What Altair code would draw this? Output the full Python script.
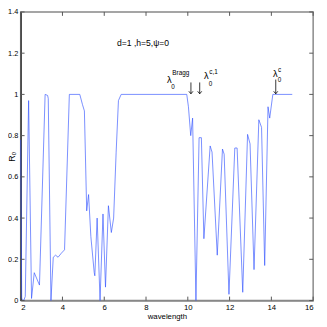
import altair as alt
import pandas as pd

# curve data
wavelength = [2.00, 2.05, 2.15, 2.22, 2.38, 2.52, 2.65, 2.90, 3.17, 3.29, 3.32, 3.45,
              3.56, 3.67, 3.79, 3.95, 4.10, 4.33, 4.83, 4.96, 5.05, 5.16, 5.25, 5.36,
              5.52, 5.55, 5.66, 5.80, 5.94, 6.06, 6.20, 6.34, 6.45, 6.57, 6.68, 6.81,
              9.95, 10.03, 10.14, 10.23, 10.39, 10.54, 10.65, 10.77, 11.07, 11.16, 11.41,
              11.66, 11.74, 11.97, 12.25, 12.36, 12.63, 12.86, 12.98, 13.17, 13.40, 13.53,
              13.68, 13.84, 13.92, 14.07, 15.0]
reflect = [0.78, 0.01, 0.0, 0.02, 0.97, 0.01, 0.135, 0.075, 1.0, 0.995, 0.98, 0.0,
           0.21, 0.22, 0.21, 0.23, 0.246, 1.0, 1.0, 0.95, 0.92, 0.435, 0.514, 0.31,
           0.136, 0.12, 0.40, 0.0, 0.42, 0.065, 0.46, 0.33, 0.40, 0.72, 0.97, 1.0,
           1.0, 0.94, 0.80, 0.885, 0.0, 0.79, 0.79, 0.30, 0.75, 0.72, 0.22,
           0.735, 0.71, 0.03, 0.74, 0.74, 0.04, 0.806, 0.76, 0.15, 0.877, 0.84,
           0.17, 0.94, 0.885, 1.0, 1.0]

x_ticks = [2, 4, 6, 8, 10, 12, 14, 16]
y_ticks = [0, 0.2, 0.4, 0.6, 0.8, 1, 1.2, 1.4]

# annotations
arrow_x = [10.15, 10.57, 14.21]
arrow_top = [1.058, 1.058, 1.072]
lam_x = [9.0, 10.78, 14.08]
lam_y = [1.07, 1.089, 1.10]
sub_x = [9.21, 11.0, 14.30]
sub_y = [1.036, 1.052, 1.070]
sup_x = [9.26, 11.03, 14.32]
sup_y = [1.104, 1.110, 1.120]
sup_text = ["Bragg", "c,1", "c"]
note_text = ["d=1 ,h=5,\u03c8=0"]
note_x = [6.61]
note_y = [1.247]

W, H = 300, 296
FONT = "Liberation Sans"

xs = alt.Scale(domain=[2, 16], nice=False, zero=False)
ys = alt.Scale(domain=[0, 1.4], nice=False, zero=False)

df = pd.DataFrame({"wl": wavelength, "R": reflect})

line = alt.Chart(df).mark_line(color="#3050ff", strokeWidth=0.65).encode(
    x=alt.X("wl:Q", scale=xs, title="wavelength",
            axis=alt.Axis(values=x_ticks, ticks=False, grid=False, format="~g",
                          domainColor="#888888", domainWidth=1.5, labelPadding=3,
                          titlePadding=1, labelFont=FONT, titleFont=FONT,
                          labelFontSize=8, titleFontSize=8, titleFontWeight="normal",
                          labelColor="#000", titleColor="#000")),
    y=alt.Y("R:Q", scale=ys, title="R\u2080",
            axis=alt.Axis(values=y_ticks, ticks=False, grid=False, format="~g",
                          domainColor="#000000", domainWidth=1, labelPadding=3,
                          titleX=-9, titleY=H / 2, titleBaseline="middle",
                          labelFont=FONT, titleFont=FONT,
                          labelFontSize=7.5, titleFontSize=9, titleFontWeight="normal",
                          labelColor="#000", titleColor="#000")),
    order=alt.Order("wl:Q"),
)

xt = pd.DataFrame({"t": x_ticks})
yt = pd.DataFrame({"t": y_ticks})
tick_col = "#555555"
bt = alt.Chart(xt).mark_rule(color=tick_col, strokeWidth=1).encode(
    x=alt.X("t:Q", scale=xs), y=alt.value(H), y2=alt.value(H - 4))
tt = alt.Chart(xt).mark_rule(color=tick_col, strokeWidth=1).encode(
    x=alt.X("t:Q", scale=xs), y=alt.value(0), y2=alt.value(4))
lt = alt.Chart(yt).mark_rule(color=tick_col, strokeWidth=1).encode(
    y=alt.Y("t:Q", scale=ys), x=alt.value(0), x2=alt.value(4))
rt = alt.Chart(yt).mark_rule(color=tick_col, strokeWidth=1).encode(
    y=alt.Y("t:Q", scale=ys), x=alt.value(W), x2=alt.value(W - 4))

adf = pd.DataFrame({"x": arrow_x, "top": arrow_top, "bot": [1.003] * 3})
arrows = alt.Chart(adf).mark_rule(color="#000", strokeWidth=0.8).encode(
    x=alt.X("x:Q", scale=xs), y=alt.Y("top:Q", scale=ys), y2="bot:Q")
heads = alt.Chart(adf).mark_point(shape="M -1 -1.2 L 0 0 L 1 -1.2", size=18, filled=False,
                                  color="#000", strokeWidth=0.8, opacity=1).encode(
    x=alt.X("x:Q", scale=xs), y=alt.Y("bot:Q", scale=ys))

ldf = pd.DataFrame({"x": lam_x, "y": lam_y, "t": ["\u03bb"] * 3})
lam = alt.Chart(ldf).mark_text(align="left", baseline="middle", font=FONT, fontSize=9.5,
                               color="#000").encode(
    x=alt.X("x:Q", scale=xs), y=alt.Y("y:Q", scale=ys), text="t:N")
sdf = pd.DataFrame({"x": sub_x, "y": sub_y, "t": ["0"] * 3})
sub = alt.Chart(sdf).mark_text(align="left", baseline="middle", font=FONT, fontSize=6.5,
                               color="#000").encode(
    x=alt.X("x:Q", scale=xs), y=alt.Y("y:Q", scale=ys), text="t:N")
pdf = pd.DataFrame({"x": sup_x, "y": sup_y, "t": sup_text})
sup = alt.Chart(pdf).mark_text(align="left", baseline="middle", font=FONT, fontSize=6.5,
                               color="#000").encode(
    x=alt.X("x:Q", scale=xs), y=alt.Y("y:Q", scale=ys), text="t:N")
ndf = pd.DataFrame({"x": note_x, "y": note_y, "t": note_text})
note = alt.Chart(ndf).mark_text(align="left", baseline="middle", font=FONT, fontSize=8.8,
                                color="#000").encode(
    x=alt.X("x:Q", scale=xs), y=alt.Y("y:Q", scale=ys), text="t:N")

chart = alt.layer(line, bt, tt, lt, rt, arrows, heads, lam, sub, sup, note).properties(
    width=W, height=H,
    padding={"left": 13, "top": 0, "right": 6, "bottom": 19},
    autosize=alt.AutoSizeParams(type="none"),
).configure_view(stroke="#888888", strokeWidth=1.5)

chart.save("out.html", embed_options={"renderer": "svg", "actions": False})
